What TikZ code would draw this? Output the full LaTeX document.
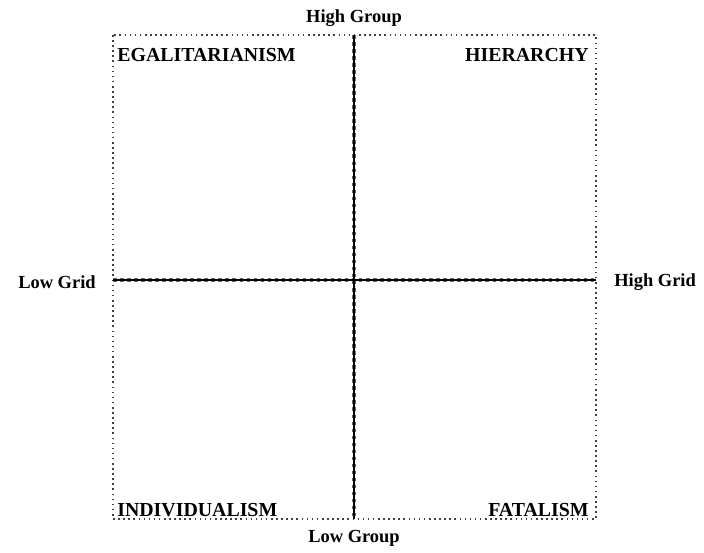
\documentclass[tikz,border=0pt]{standalone}
\usepackage{fontspec}
\setmainfont{Liberation Serif}
\begin{document}
\begin{tikzpicture}[x=0.02cm, y=-0.02cm,
  lab/.style={font=\fontsize{10.5}{12}\selectfont\bfseries, inner sep=0pt},
  quad/.style={font=\fontsize{11.3}{13}\selectfont\bfseries, inner sep=0pt},
  frame/.style={dotted, line width=0.9pt, black!75},
  axis/.style={line width=1.1pt}]
\useasboundingbox (0,0) rectangle (704,552);
% box and axes
\coordinate (nw) at (113,35);
\coordinate (se) at (596,519);
\coordinate (top) at (354,35);
\coordinate (bot) at (354,519);
\coordinate (lft) at (113,280);
\coordinate (rgt) at (596,280);
\draw[frame] (nw) rectangle (se);
\draw[frame, line width=2pt, black!60] (top) -- (bot);
\draw[frame, line width=2pt, black!60] (lft) -- (rgt);
\draw[axis] (top) -- (bot);
\draw[axis] (lft) -- (rgt);
% axis labels
\node[lab] (hgroup) at (354,18) {High Group};
\node[lab] (lgroup) at (354,538) {Low Group};
\node[lab, anchor=east] (lgrid) at (96,282) {Low Grid};
\node[lab, anchor=west] (hgrid) at (614,282) {High Grid};
% quadrants
\node[quad, anchor=west] (egal) at (117,55) {EGALITARIANISM};
\node[quad, anchor=east] (hier) at (589,55) {HIERARCHY};
\node[quad, anchor=west] (indiv) at (117,510) {INDIVIDUALISM};
\node[quad, anchor=east] (fatal) at (589,510) {FATALISM};
\end{tikzpicture}
\end{document}
